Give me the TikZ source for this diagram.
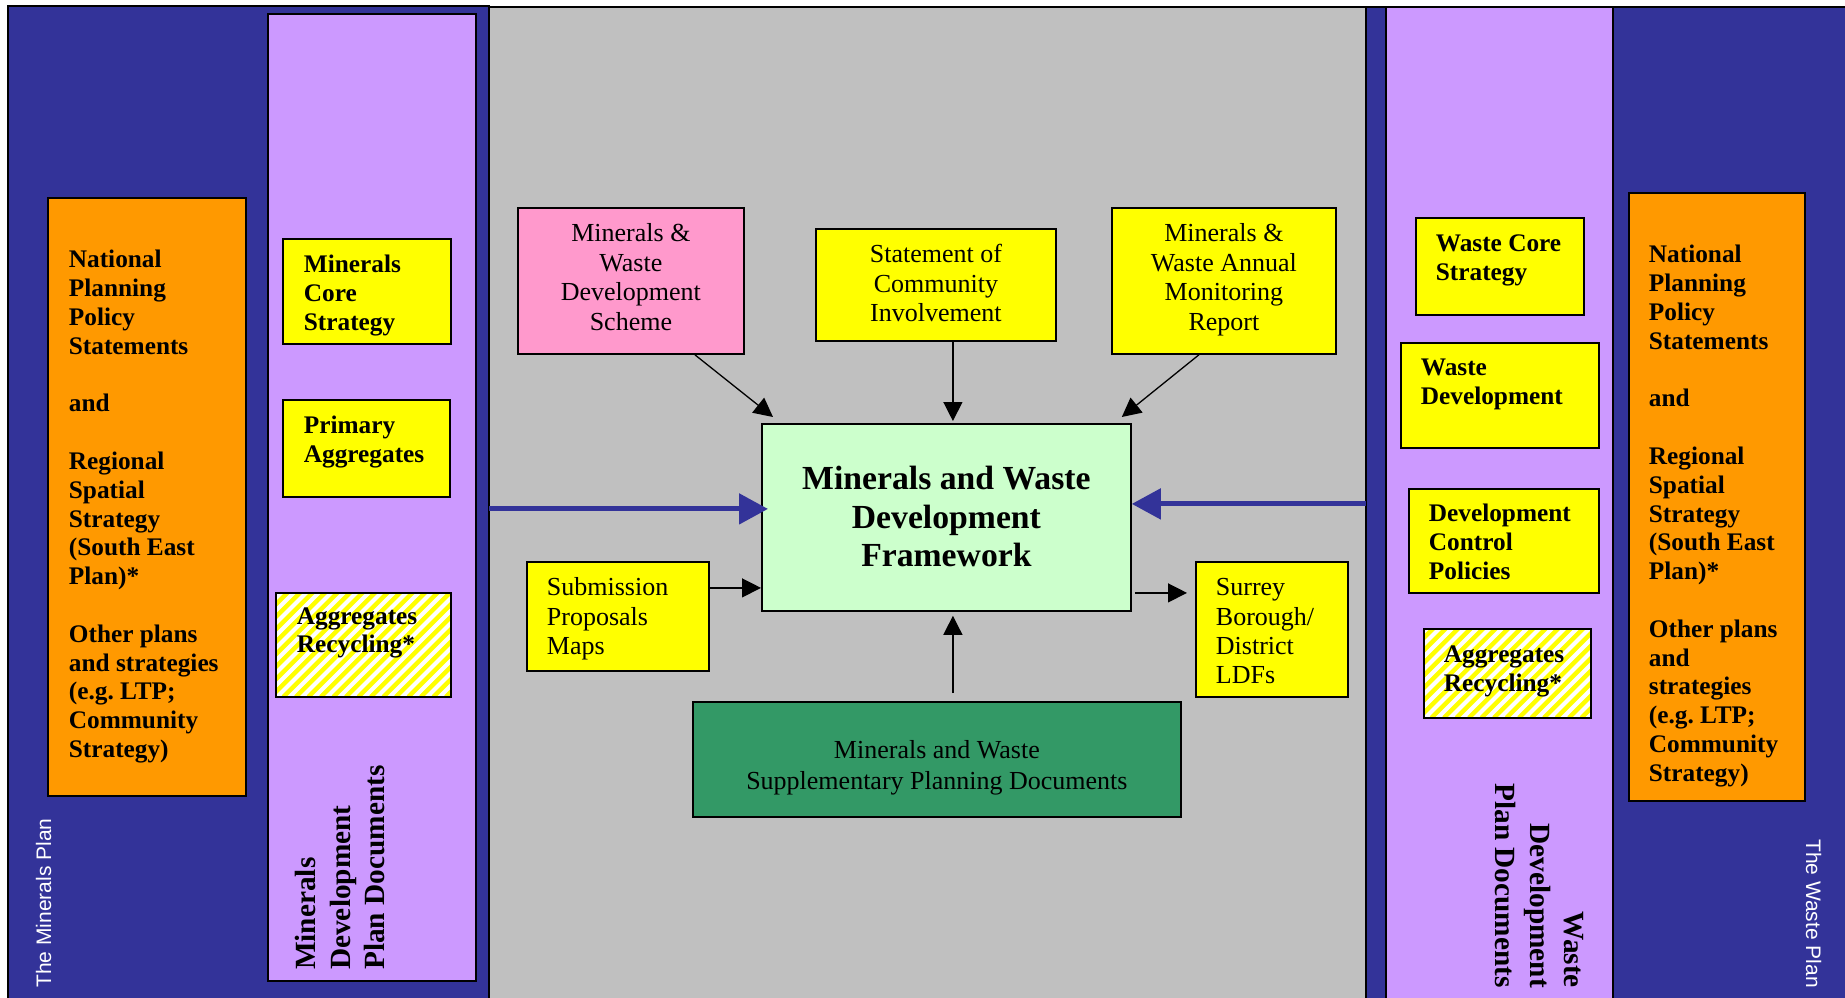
\documentclass[tikz,border=0pt]{standalone}
\usepackage{fontspec}
\setmainfont{Liberation Serif}
\newfontfamily\arialf{Liberation Sans}
\usetikzlibrary{arrows.meta,calc}
\definecolor{navy}{HTML}{333399}
\definecolor{lav}{HTML}{CC99FF}
\definecolor{orng}{HTML}{FF9900}
\definecolor{yel}{HTML}{FFFF00}
\definecolor{pnk}{HTML}{FF99CC}
\definecolor{lgreen}{HTML}{CCFFCC}
\definecolor{dgreen}{HTML}{339966}
\definecolor{grayc}{HTML}{C0C0C0}
\begin{document}
\begin{tikzpicture}[x=1pt,y=-1pt,
  sidebox/.style={draw=black, line width=1.8pt, fill=yel, anchor=north west, inner ysep=0pt, align=flush left,
    font={\fontsize{25.3}{28.8}\selectfont\bfseries}},
  obox/.style={sidebox, fill=orng},
  cbox/.style={draw=black, line width=1.8pt, anchor=north west, inner ysep=0pt, align=flush center,
    font={\fontsize{26}{29.5}\selectfont}},
  lbox/.style={cbox, align=flush left, font={\fontsize{26}{29.3}\selectfont}},
  hatch/.style={path picture={
    \fill[white] (path picture bounding box.south west) rectangle (path picture bounding box.north east);
    \foreach \i in {-130,-117.5,...,200}{\draw[yel, line width=4.4pt] ([xshift=\i pt]path picture bounding box.south west) -- ++(150pt,150pt);}}},
  arr/.style={-{Triangle[length=19pt,width=19pt]}, line width=1.3pt},
  barr/.style={draw=navy, -{Triangle[length=29pt,width=30pt]}, line width=5pt},
  vlabel/.style={inner sep=0pt, text width=240pt, text height=20pt, font={\fontsize{29.3}{34.8}\selectfont\bfseries}},
  plabel/.style={inner sep=0pt, text=white, font={\arialf\fontsize{21}{25}\selectfont}}
]
\useasboundingbox (0,0) rectangle (1845,997);
\clip (0,0) rectangle (1845,997);
\fill[white] (0,0) rectangle (1845,997);

% panels
\draw[fill=navy, line width=1.5pt] (8,6) rectangle (489,1010);
\node[draw, fill=grayc, line width=2pt, anchor=north west, inner sep=0pt, outer sep=0pt,
  minimum width=877pt, minimum height=1000pt] (gray) at (489,7) {};
\draw[fill=navy, line width=2pt] (1366,7) rectangle (1860,1010);
\draw[fill=lav, line width=1.5pt] (268,14) rectangle (476,981);
\draw[fill=lav, line width=2pt] (1386,7) rectangle (1613,1010);

% left side
\node[obox, text width=156pt, inner xsep=21pt, text height=70pt, text depth=528pt] (natl) at (47,197)
  {National\\Planning\\Policy\\Statements\\[28.8pt]and\\[28.8pt]Regional\\Spatial\\Strategy\\(South~East\\Plan)*\\[28.8pt]Other~plans\\and~strategies\\(e.g.~LTP;\\Community\\Strategy)};
\node[sidebox, text width=126pt, inner xsep=21pt, text height=34pt, text depth=71pt] (mcs) at (282,238) {Minerals\\Core\\Strategy};
\node[sidebox, text width=125pt, inner xsep=21pt, text height=34pt, text depth=63pt] (pa) at (282,399) {Primary\\Aggregates};
\node[sidebox, hatch, fill=none, text width=133pt, inner xsep=21pt, text height=32pt, text depth=72pt,
  font={\fontsize{25.3}{27.5}\selectfont\bfseries}] (argl) at (275,592) {Aggregates\\Recycling*};
\node[vlabel, rotate=90, anchor=north west, align=flush left] (mdpd) at (295,970) {Minerals\\Development\\Plan Documents};
\node[plabel, rotate=90, anchor=base west] (tmp) at (51,988) {The Minerals Plan};

% right side
\node[obox, text width=136pt, inner xsep=20pt, text height=70pt, text depth=538pt] (natr) at (1628,192)
  {National\\Planning\\Policy\\Statements\\[28.8pt]and\\[28.8pt]Regional\\Spatial\\Strategy\\(South~East\\Plan)*\\[28.8pt]Other~plans\\and\\strategies\\(e.g.~LTP;\\Community\\Strategy)};
\node[sidebox, text width=128pt, inner xsep=20pt, text height=34pt, text depth=63pt] (wcs) at (1415,217) {Waste~Core\\Strategy};
\node[sidebox, text width=158pt, inner xsep=20pt, text height=33pt, text depth=72pt] (wd) at (1400,342) {Waste\\Development};
\node[sidebox, text width=150pt, inner xsep=20pt, text height=33pt, text depth=71pt] (dcp) at (1408,488) {Development\\Control\\Policies};
\node[sidebox, hatch, fill=none, text width=127pt, inner xsep=20pt, text height=34pt, text depth=55pt,
  font={\fontsize{25.3}{28.5}\selectfont\bfseries}] (argr) at (1423,628) {Aggregates\\Recycling*};
\node[vlabel, rotate=-90, anchor=north east, align=flush right] (wdpd) at (1585,988) {Waste\\Development\\Plan Documents};
\node[plabel, rotate=-90, anchor=base east] (twp) at (1806,988) {The Waste Plan};

% centre
\node[cbox, fill=pnk, text width=216pt, inner xsep=5pt, text height=34pt, text depth=112pt] (mwds) at (517,207)
  {Minerals \&\\Waste\\Development\\Scheme};
\node[cbox, fill=yel, text width=230pt, inner xsep=5pt, text height=34pt, text depth=78pt] (sci) at (815,228)
  {Statement of\\Community\\Involvement};
\node[cbox, fill=yel, text width=214pt, inner xsep=5pt, text height=34pt, text depth=112pt] (amr) at (1111,207)
  {Minerals \&\\Waste Annual\\Monitoring\\Report};
\node[cbox, fill=lgreen, text width=349pt, inner xsep=10pt, text height=66pt, text depth=121pt,
  font={\fontsize{33.7}{38.3}\selectfont\bfseries}] (mwdf) at (761,423)
  {Minerals and Waste\\Development\\Framework};
\node[lbox, fill=yel, text width=142pt, inner xsep=20pt, text height=34pt, text depth=75pt] (spm) at (526,561)
  {Submission\\Proposals\\Maps};
\node[lbox, fill=yel, text width=112pt, inner xsep=20pt, text height=34pt, text depth=101pt] (sbd) at (1195,561)
  {Surrey\\Borough/\\District\\LDFs};
\node[cbox, fill=dgreen, text width=478pt, inner xsep=5pt, text height=57pt, text depth=58pt,
  font={\fontsize{26}{31}\selectfont}] (spd) at (692,701)
  {Minerals and Waste\\Supplementary Planning Documents};

% connectors
\draw[arr] ([xshift=64pt]mwds.south) -- ([xshift=12pt,yshift=6pt]mwdf.north west);
\path ([xshift=17pt]sci.south) coordinate (sx);
\draw[arr, shorten >=2pt] (sx) -- (sx |- mwdf.north);
\draw[arr] ([xshift=-25pt]amr.south) -- ([xshift=-10pt,yshift=6pt]mwdf.north east);
\path ([yshift=8.5pt]mwdf.west) coordinate (bl);
\draw[barr, shorten >=-7pt] (bl -| gray.west) -- (bl);
\path ([yshift=13.5pt]mwdf.east) coordinate (br);
\draw[barr] (br -| gray.east) -- (br);
\path ([yshift=28.5pt]spm.east) coordinate (se);
\draw[arr] (se) -- (se -| mwdf.west);
\path ([yshift=-75.5pt]mwdf.east) coordinate (ce);
\draw[arr, shorten <=3pt, shorten >=8pt] (ce) -- (ce -| sbd.west);
\draw[arr, shorten <=8pt, shorten >=4pt] (sx |- spd.north) -- (sx |- mwdf.south);
\end{tikzpicture}
\end{document}
